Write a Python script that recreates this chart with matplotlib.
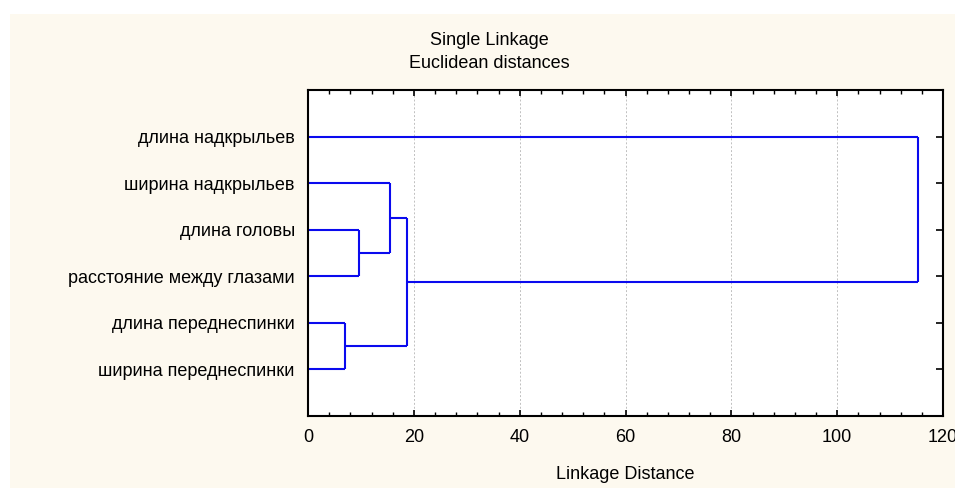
import matplotlib
matplotlib.use("Agg")
import matplotlib.pyplot as plt
import matplotlib.ticker as mticker
from matplotlib.patches import Rectangle

plt.rcParams["font.family"] = ["Liberation Sans", "DejaVu Sans"]

# leaves, top to bottom as shown on the chart
LEAVES = [
    "длина надкрыльев",
    "ширина надкрыльев",
    "длина головы",
    "расстояние между глазами",
    "длина переднеспинки",
    "ширина переднеспинки",
]
# merges: (child a, child b, linkage distance); children are leaf names or merge ids "m0".."m4"
MERGES = [
    ("длина переднеспинки", "ширина переднеспинки", 7.0),
    ("длина головы", "расстояние между глазами", 9.6),
    ("ширина надкрыльев", "m1", 15.5),
    ("m2", "m0", 18.8),
    ("длина надкрыльев", "m3", 115.2),
]
X_TICKS = [0, 20, 40, 60, 80, 100, 120]

BG = "#fdf9ef"
BLUE = "#0a0aee"
FS = 13

fig = plt.figure(figsize=(9.55, 4.88), dpi=100)
fig.patch.set_facecolor("white")
fig.patches.append(Rectangle((10 / 955, 0), 1, 1 - 14 / 488, transform=fig.transFigure,
                             facecolor=BG, edgecolor="none", zorder=-10))

ax = fig.add_axes([308 / 955, 1 - 416 / 488, 635 / 955, 326 / 488])
ax.set_facecolor("white")

n = len(LEAVES)
ypos = {name: n - i for i, name in enumerate(LEAVES)}
height = {name: 0.0 for name in LEAVES}
for k, (a, b, d) in enumerate(MERGES):
    for c in (a, b):
        ax.plot([height[c], d], [ypos[c], ypos[c]], color=BLUE, lw=1.5, solid_capstyle="butt")
    ax.plot([d, d], [ypos[a], ypos[b]], color=BLUE, lw=1.5, solid_capstyle="butt")
    ypos[f"m{k}"] = (ypos[a] + ypos[b]) / 2
    height[f"m{k}"] = d

ax.set_xlim(0, 120)
ax.set_ylim(0, n + 1)
ax.set_xticks(X_TICKS)
ax.xaxis.set_minor_locator(mticker.MultipleLocator(4))
ax.set_yticks([ypos[name] for name in LEAVES], LEAVES)
ax.tick_params(axis="both", which="both", direction="in", top=True, right=True,
               color="black", labelsize=FS)
ax.tick_params(axis="x", which="major", length=4, width=1.2, pad=9)
ax.tick_params(axis="x", which="minor", length=3, width=1.0)
ax.tick_params(axis="y", which="major", length=5, width=1.2, pad=9.5)
ax.grid(True, axis="x", color="#c0c0c0", linestyle=(0, (2, 2)), linewidth=0.7)
ax.set_axisbelow(True)
for s in ax.spines.values():
    s.set_linewidth(1.5)
    s.set_color("black")

ax.set_xlabel("Linkage Distance", fontsize=FS, labelpad=15)
fig.text(489 / 955, 1 - 52 / 488, "Single Linkage\nEuclidean distances", ha="center", va="center",
         fontsize=FS, linespacing=1.4)

fig.savefig("out.png", dpi=100, facecolor=fig.get_facecolor())
